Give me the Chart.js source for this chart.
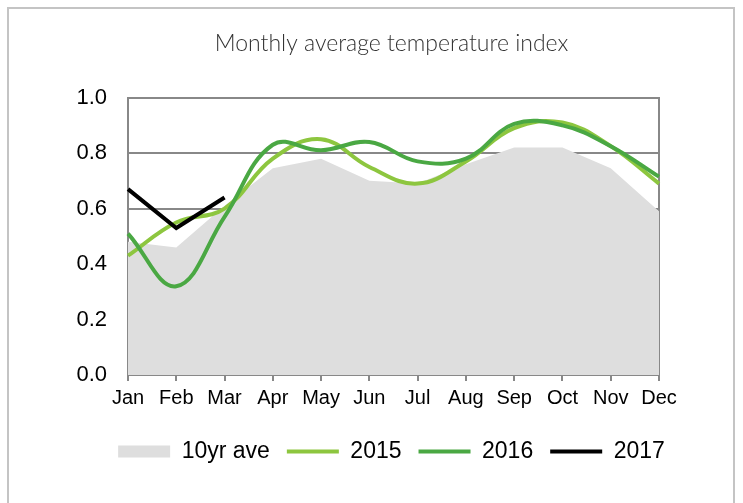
<!DOCTYPE html>
<html>
<head>
<meta charset="utf-8">
<script src="https://cdn.jsdelivr.net/npm/chart.js@4/dist/chart.umd.min.js"></script>
<style>
  html, body { margin: 0; padding: 0; background: #fff; }
  #wrap { position: relative; width: 743px; height: 503px; overflow: hidden; }
  #frame { position: absolute; left: 7px; top: 7px; width: 728px; height: 520px; border: 2px solid #c4c4c4; box-sizing: border-box; }
  canvas { position: absolute; left: 0; top: 0; }
</style>
</head>
<body>
<div id="wrap">
  <div id="frame"></div>
  <canvas id="chart" width="743" height="503"></canvas>
</div>
<script>
  const months = ["Jan", "Feb", "Mar", "Apr", "May", "Jun", "Jul", "Aug", "Sep", "Oct", "Nov", "Dec"];
  const ave10 = [0.48, 0.46, 0.61, 0.745, 0.78, 0.70, 0.69, 0.76, 0.82, 0.82, 0.745, 0.59];
  const y2015 = [0.43, 0.55, 0.60, 0.78, 0.85, 0.75, 0.69, 0.77, 0.89, 0.91, 0.825, 0.69];
  const y2016 = [0.51, 0.32, 0.57, 0.83, 0.81, 0.84, 0.77, 0.78, 0.905, 0.90, 0.825, 0.715];
  const y2017 = [0.67, 0.53, 0.64];

  const grey = "#dedede";
  const axisCol = "#888888";
  const font = "'Liberation Sans', Arial, sans-serif";

  new Chart(document.getElementById("chart"), {
    type: "line",
    data: {
      labels: months,
      datasets: [
        { label: "10yr ave", data: ave10, fill: "origin", backgroundColor: grey, borderWidth: 0, tension: 0, pointRadius: 0, order: 10 },
        { label: "2015", data: y2015, borderColor: "#8dc63f", borderWidth: 4, tension: 0.4, pointRadius: 0, fill: false, order: 3 },
        { label: "2016", data: y2016, borderColor: "#4aa843", borderWidth: 4, tension: 0.4, pointRadius: 0, fill: false, order: 2 },
        { label: "2017", data: y2017, borderColor: "#000000", borderWidth: 4, tension: 0, pointRadius: 0, fill: false, order: 1 }
      ]
    },
    options: {
      responsive: false,
      animation: false,
      layout: { padding: { left: 40, right: 0, top: 0, bottom: 30 } },
      plugins: {
        tooltip: { enabled: false },
        title: {
          display: true,
          text: "Monthly average temperature index",
          color: "#333333",
          font: { family: "Lato, 'Open Sans', sans-serif", size: 23, weight: 300 },
          padding: { top: 30, bottom: 40 }
        },
        legend: {
          position: "bottom",
          labels: {
            color: "#000",
            font: { family: font, size: 23 },
            usePointStyle: true,
            pointStyleWidth: 52,
            boxHeight: 12,
            padding: 17,
            generateLabels: (chart) => chart.data.datasets.map((ds, i) => ({
              text: ds.label,
              datasetIndex: i,
              fillStyle: ds.fill === "origin" ? grey : ds.borderColor,
              strokeStyle: ds.fill === "origin" ? grey : ds.borderColor,
              lineWidth: ds.fill === "origin" ? 0 : 4,
              pointStyle: ds.fill === "origin" ? "rect" : "line",
              fontColor: "#000",
              hidden: false
            }))
          }
        }
      },
      scales: {
        x: {
          offset: false,
          grid: { drawOnChartArea: false, color: axisCol, lineWidth: 2, tickLength: 6 },
          border: { color: axisCol, width: 2 },
          ticks: { color: "#000", font: { family: font, size: 20 }, padding: 5, autoSkip: false, maxRotation: 0 },
          afterFit: (s) => { s.height = 48; }
        },
        y: {
          min: 0,
          max: 1,
          grid: { color: axisCol, lineWidth: 2, drawTicks: false },
          border: { color: axisCol, width: 2 },
          ticks: { stepSize: 0.2, color: "#000", font: { family: font, size: 22 }, padding: 21, callback: (v) => v.toFixed(1) },
          afterFit: (s) => { s.width = 88; }
        },
        y2: {
          position: "right",
          min: 0,
          max: 1,
          grid: { drawOnChartArea: false, drawTicks: false },
          border: { color: axisCol, width: 2 },
          ticks: { display: false },
          afterFit: (s) => { s.width = 84; }
        }
      }
    }
  });
</script>
</body>
</html>
